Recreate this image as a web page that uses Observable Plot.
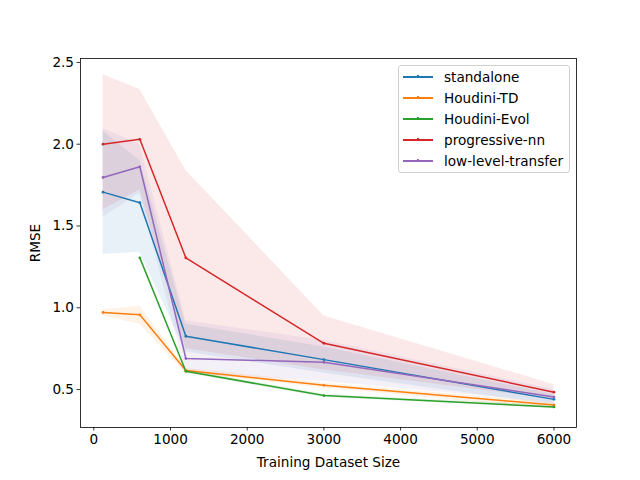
<!DOCTYPE html>
<html>
<head>
<meta charset="utf-8">
<script src="https://cdn.jsdelivr.net/npm/d3@7"></script>
<script src="https://cdn.jsdelivr.net/npm/@observablehq/plot@0.6"></script>
<style>
  body { margin: 0; background: white; }
  #wrap { position: relative; width: 640px; height: 480px; font-family: "DejaVu Sans", sans-serif; }
  #legend { position: absolute; left: 398px; top: 65px; width: 172px; height: 108px;
    border: 1px solid #d0d0d0; border-radius: 3px; background: rgba(255,255,255,0.85);
    box-sizing: border-box; padding: 0 0 0 4px; }
  .row { display: flex; align-items: center; height: 21px; font-size: 13.6px; color: black; }
  .sw { position: relative; width: 30px; height: 2px; margin-right: 11px; }
  .sw i { position: absolute; left: 14px; top: -0.5px; width: 2px; height: 3px; }
</style>
</head>
<body>
<div id="wrap"></div>
<script>
const sizes = [120, 600, 1200, 3000, 6000];
const seriesNames = ["standalone", "Houdini-TD", "Houdini-Evol", "progressive-nn", "low-level-transfer"];
const colors = ["#1f77b4", "#ff7f0e", "#2ca02c", "#d62728", "#9467bd"];

const standalone   = [1.707, 1.642, 0.826, 0.683, 0.440];
const standaloneLo = [1.326, 1.340, 0.730, 0.600, 0.405];
const standaloneHi = [2.080, 1.900, 0.900, 0.760, 0.470];

const houdiniTD    = [0.971, 0.957, 0.616, 0.526, 0.406];
const houdiniTDLo  = [0.950, 0.900, 0.600, 0.510, 0.380];
const houdiniTDHi  = [0.990, 1.010, 0.630, 0.540, 0.420];

const houdiniEvol   = [null, 1.305, 0.612, 0.463, 0.394];
const houdiniEvolLo = [null, 1.300, 0.600, 0.452, 0.385];
const houdiniEvolHi = [null, 1.312, 0.622, 0.472, 0.403];

const progNN   = [2.000, 2.030, 1.305, 0.783, 0.484];
const progNNLo = [1.600, 1.720, 0.750, 0.620, 0.440];
const progNNHi = [2.425, 2.335, 1.840, 0.950, 0.530];

const lowLevel   = [1.797, 1.862, 0.690, 0.667, 0.455];
const lowLevelLo = [1.554, 1.700, 0.600, 0.550, 0.420];
const lowLevelHi = [2.096, 2.000, 0.920, 0.800, 0.500];

const xTicks = [0, 1000, 2000, 3000, 4000, 5000, 6000];
const yTicks = [0.5, 1.0, 1.5, 2.0, 2.5];

const mids = [standalone, houdiniTD, houdiniEvol, progNN, lowLevel];
const los = [standaloneLo, houdiniTDLo, houdiniEvolLo, progNNLo, lowLevelLo];
const his = [standaloneHi, houdiniTDHi, houdiniEvolHi, progNNHi, lowLevelHi];

const rows = [];
seriesNames.forEach((s, k) => {
  sizes.forEach((x, i) => {
    if (mids[k][i] == null) return;
    rows.push({series: s, x, y: mids[k][i], lo: los[k][i], hi: his[k][i]});
  });
});

const chart = Plot.plot({
  width: 640, height: 480,
  marginLeft: 80, marginRight: 64, marginTop: 58, marginBottom: 53,
  style: {fontFamily: "DejaVu Sans", fontSize: "13.6px", background: "white", color: "black"},
  x: {domain: [-174, 6294]},
  y: {domain: [0.268, 2.524]},
  color: {domain: seriesNames, range: colors},
  marks: [
    Plot.areaY(rows, {x: "x", y1: "lo", y2: "hi", z: "series", fill: "series", fillOpacity: 0.1}),
    Plot.line(rows, {x: "x", y: "y", z: "series", stroke: "series", strokeWidth: 1.5}),
    Plot.dot(rows, {x: "x", y: "y", fill: "series", r: 1.4}),
    Plot.axisX({ticks: xTicks, tickFormat: d => String(d), tickSize: 3.5, tickPadding: 3, strokeWidth: 0.8,
      label: "Training Dataset Size", labelAnchor: "center", labelArrow: "none", labelOffset: 39}),
    Plot.axisY({ticks: yTicks, tickFormat: ".1f", tickSize: 3.5, tickPadding: 3, strokeWidth: 0.8,
      label: "RMSE", labelAnchor: "center", labelArrow: "none", labelOffset: 50}),
    Plot.frame({stroke: "black", strokeWidth: 0.8})
  ]
});

const wrap = document.getElementById("wrap");
wrap.appendChild(chart);
const legend = document.createElement("div");
legend.id = "legend";
seriesNames.forEach((s, k) => {
  const r = document.createElement("div");
  r.className = "row";
  r.innerHTML = `<span class="sw" style="background:${colors[k]}"><i style="background:${colors[k]}"></i></span><span>${s}</span>`;
  legend.appendChild(r);
});
wrap.appendChild(legend);
</script>
</body>
</html>
